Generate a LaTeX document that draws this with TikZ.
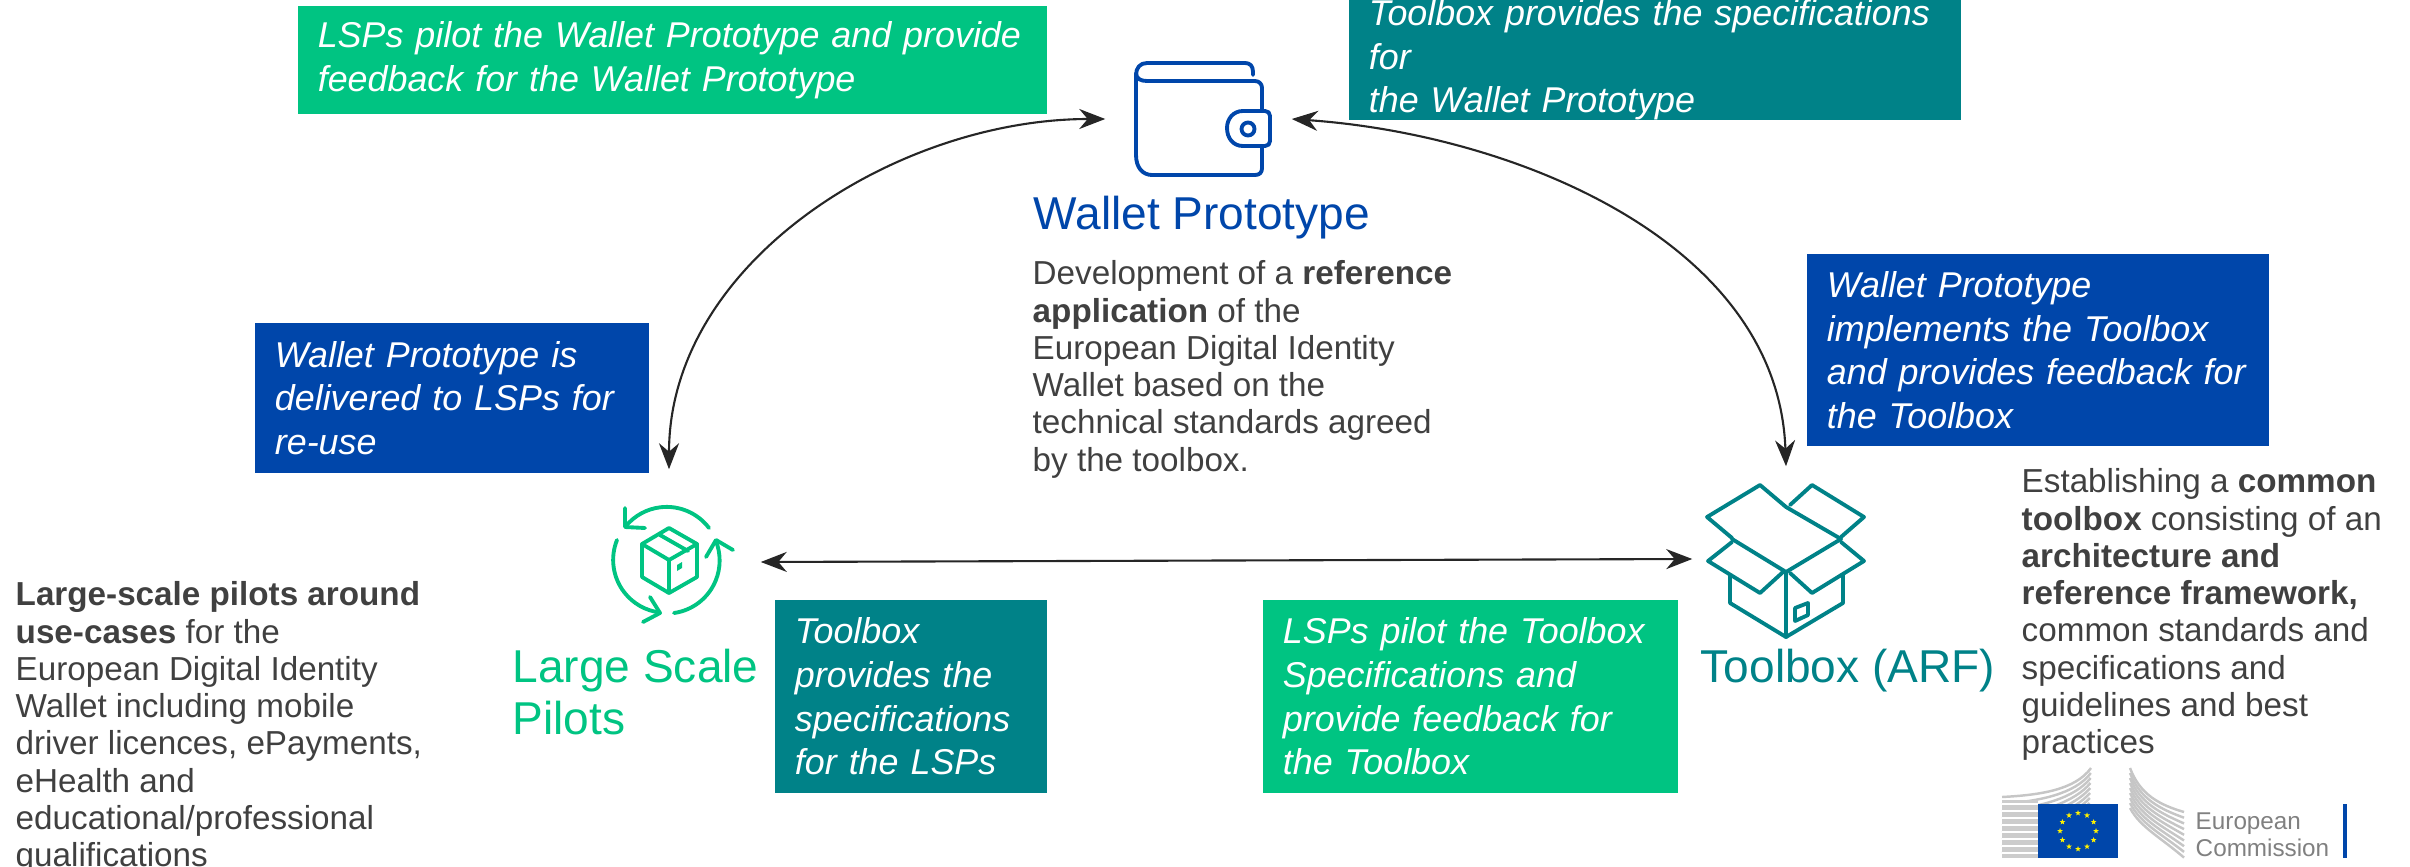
\documentclass[tikz,border=0pt]{standalone}
\usepackage{xcolor}
\usepackage{fontspec}
\setmainfont{Liberation Sans}
\usetikzlibrary{arrows.meta,shapes.geometric}

\definecolor{lspgreen}{RGB}{0,196,130}
\definecolor{boxteal}{RGB}{0,130,136}
\definecolor{walletblue}{RGB}{0,70,170}
\definecolor{bodygray}{RGB}{64,64,64}

\tikzset{
  notebox/.style={inner xsep=0.2cm,inner ysep=0pt,align=left,text=white,
    font=\fontsize{10.2}{12.4}\selectfont\itshape},
  hub/.style={inner sep=0pt},
  heading/.style={anchor=west,inner sep=0pt,align=left,font=\fontsize{13.1}{14.6}\selectfont},
  bodytext/.style={anchor=north west,inner sep=0pt,align=left,text=bodygray,
    font=\fontsize{9.45}{10.6}\selectfont},
  link/.style={semithick,black!85,{Stealth[length=0.26cm,width=0.2cm]}-{Stealth[length=0.26cm,width=0.2cm]}},
  iconline/.style={line width=1.1pt,line join=round,line cap=round},
}

\begin{document}
\begin{tikzpicture}[x=0.01cm,y=-0.01cm]
\useasboundingbox (0,0) rectangle (2410,867);

%hubs for the connectors
\node[hub,minimum width=1.85cm,minimum height=1.25cm] (wallet) at (1198.5,119) {};
\node[hub,minimum width=1.82cm,minimum height=1.84cm] (lsp) at (669,562) {};
\node[hub,minimum width=1.86cm,minimum height=1.84cm] (toolbox) at (1786,559) {};

\draw[link] (wallet.west) to[out=180,in=90,looseness=0.95] (lsp.north);
\draw[link] (wallet.east) to[out=-4,in=92,looseness=0.95] (toolbox.north);
\draw[link] (lsp.east) -- (toolbox.west);

%coloured notes
\node[notebox,fill=lspgreen,text width=7.09cm,minimum height=1.08cm] (lspfeed) at (672.5,60)
  {LSPs pilot the Wallet Prototype and provide\\feedback for the Wallet Prototype};
\node[notebox,fill=boxteal,text width=5.72cm,minimum height=1.08cm] (toolspec) at (1655,60)
  {Toolbox provides the specifications for\\the Wallet Prototype};
\node[notebox,fill=walletblue,text width=3.54cm,minimum height=1.5cm] (deliver) at (452,398)
  {Wallet Prototype is\\delivered to LSPs for\\re-use};
\node[notebox,fill=walletblue,text width=4.22cm,minimum height=1.92cm] (implement) at (2038,350)
  {Wallet Prototype\\implements the Toolbox\\and provides feedback for\\the Toolbox};
\node[notebox,fill=boxteal,text width=2.32cm,minimum height=1.93cm] (lspspec) at (911,696.5)
  {Toolbox\\provides the\\specifications\\for the LSPs};
\node[notebox,fill=lspgreen,text width=3.75cm,minimum height=1.93cm] (toolfeed) at (1470.5,696.5)
  {LSPs pilot the Toolbox\\Specifications and\\provide feedback for\\the Toolbox};

%headings
\node[heading,text=walletblue] (wallethead) at (1033,218) {Wallet Prototype};
\node[heading,text=lspgreen] (lsphead) at (512,692) {Large Scale\\Pilots};
\node[heading,text=boxteal] (toolhead) at (1700,671) {Toolbox (ARF)};

%body texts
\node[bodytext] (walletbody) at (1032,260) {Development of a \textbf{reference}\\\textbf{application} of the\\European Digital Identity\\Wallet based on the\\technical standards agreed\\by the toolbox.};
\node[bodytext] (lspbody) at (15,581) {\textbf{Large-scale pilots around}\\\textbf{use-cases} for the\\European Digital Identity\\Wallet including mobile\\driver licences, ePayments,\\eHealth and\\educational/professional\\qualifications};
\node[bodytext] (toolbody) at (2021,468) {Establishing a \textbf{common}\\\textbf{toolbox} consisting of an\\\textbf{architecture and}\\\textbf{reference framework,}\\common standards and\\specifications and\\guidelines and best\\practices};

%wallet icon
\draw[iconline,walletblue]
  (1253,75) -- (1253,72) .. controls (1253,66) and (1250,63) .. (1245,63) -- (1147,63)
  .. controls (1140,63) and (1136,68) .. (1136,75) -- (1136,155)
  .. controls (1136,168) and (1143,175) .. (1152,175) -- (1255,175)
  .. controls (1260,175) and (1262,172) .. (1262,168) -- (1262,147);
\draw[iconline,walletblue]
  (1262,110) -- (1262,88) .. controls (1262,84) and (1259,81) .. (1255,81) -- (1147,81)
  .. controls (1141,81) and (1136,79) .. (1136,73);
\draw[iconline,walletblue]
  (1243,111) .. controls (1233,111) and (1227,119) .. (1227,128)
  .. controls (1227,138) and (1233,146) .. (1243,146) -- (1265,146)
  .. controls (1268,146) and (1270,144) .. (1270,141) -- (1270,116)
  .. controls (1270,113) and (1268,111) .. (1265,111) -- cycle;
\draw[iconline,walletblue] (1248,129) circle (6.5);

%pilots icon
\draw[iconline,lspgreen] (709,528) arc[start angle=-37,end angle=-140,radius=53];
\draw[iconline,lspgreen] (625,508) -- (625,527) -- (645,528);
\draw[iconline,lspgreen] (617,540) arc[start angle=-158,end angle=-263,radius=53];
\draw[iconline,lspgreen] (650,597) -- (660,613) -- (643,622);
\draw[iconline,lspgreen] (674,613) arc[start angle=82,end angle=-22,radius=53];
\draw[iconline,lspgreen] (706,557) -- (716,540) -- (733,550);
\draw[iconline,lspgreen] (669,528) -- (697,544) -- (697,577) -- (669,593) -- (642,577) -- (642,544) -- cycle;
\draw[iconline,lspgreen] (642,544) -- (669,560) -- (697,544) (669,560) -- (669,593) (660,535) -- (688,551);
\fill[lspgreen] (677,565) -- (682,562) -- (682,568) -- (677,571) -- cycle;

%toolbox icon
\draw[iconline,boxteal] (1732,538) -- (1707,517) -- (1760,485) -- (1786,507) -- (1841,539) -- (1786,572) -- (1732,539) -- cycle;
\draw[iconline,boxteal] (1790,505) -- (1812,485) -- (1864,517) -- (1841,537);
\draw[iconline,boxteal] (1732,542) -- (1708,561) -- (1760,593) -- (1783,572);
\draw[iconline,boxteal] (1841,542) -- (1864,561) -- (1812,593) -- (1790,573);
\draw[iconline,boxteal] (1730,575) -- (1730,603) -- (1786,637) -- (1843,603) -- (1843,575);
\draw[iconline,boxteal] (1786,572) -- (1786,637);
\draw[iconline,boxteal] (1795,608) -- (1808,603) -- (1808,615) -- (1795,621) -- cycle;

%commission logo
\foreach \i in {0,...,8} {
  \draw[gray!45,line width=0.7pt] (2002,{797+\i*7}) .. controls (2040,{795+\i*6}) and (2075,{790+\i*4}) .. ({2091-\i*0.2},{768+\i*5});
}
\foreach \i in {0,...,8} {
  \draw[gray!45,line width=0.7pt] (2130,{768+\i*5}) .. controls (2140,{795+\i*4}) and (2160,{805+\i*4}) .. (2184,{812+\i*5.7});
}
\fill[gray!40] (2002,800) rectangle (2038,858);
\foreach \i in {0,...,7} {
  \draw[white,line width=0.6pt] (2002,{804+\i*7}) -- (2038,{804+\i*7});
}
\fill[walletblue] (2038,804) rectangle (2118,858);
\foreach \a in {0,30,...,330} {
  \node[star,star points=5,star point ratio=2.4,fill=yellow,inner sep=0pt,minimum size=0.06cm] at ({2078+18*cos(\a)},{831+18*sin(\a)}) {};
}
\node[anchor=north west,inner sep=0pt,align=left,text=gray,font=\fontsize{6.9}{7.8}\selectfont] (commission) at (2195,812) {European\\Commission};
\fill[walletblue] (2343,804) rectangle (2347,858);

\end{tikzpicture}
\end{document}
